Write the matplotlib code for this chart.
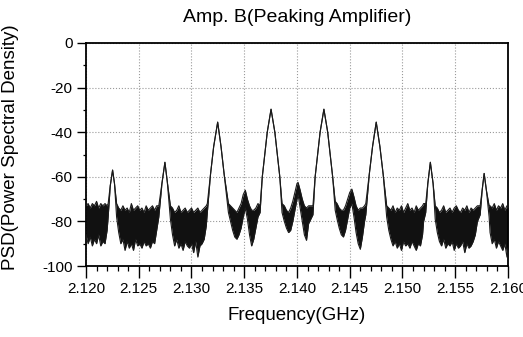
import numpy as np
import matplotlib
matplotlib.use("Agg")
import matplotlib.pyplot as plt
from matplotlib.ticker import MultipleLocator

plt.rcParams['font.family'] = ['Liberation Sans', 'DejaVu Sans']
plt.rcParams['axes.unicode_minus'] = False

# trace: frequency (GHz), upper / lower edge of the trace (dB)
# where upper == lower the trace is a single line (carrier / IM peaks)
freq = [
    # noise left of carrier 1
    2.1200, 2.1202, 2.1204, 2.1206, 2.1208, 2.1210, 2.1212, 2.1214, 2.1216, 2.1218, 2.1220,
    # carrier 1
    2.1221, 2.1223, 2.12252, 2.1227, 2.1229,
    # noise
    2.1231, 2.1233, 2.1235, 2.1237, 2.1239, 2.1241, 2.1243, 2.1245, 2.1247, 2.1249,
    2.1251, 2.1253, 2.1255, 2.1257, 2.1259, 2.1261, 2.1263, 2.1265, 2.1267,
    # carrier 2
    2.1269, 2.1272, 2.12748, 2.1277, 2.1280,
    # noise
    2.1282, 2.1284, 2.1286, 2.1288, 2.1290, 2.1292, 2.1294, 2.1296, 2.1298, 2.1300,
    2.1302, 2.1304, 2.1306, 2.1308, 2.1310, 2.1312, 2.1314,
    # carrier 3
    2.1315, 2.1318, 2.1321, 2.13248, 2.1328, 2.1331, 2.1335,
    # IM region around 2.135
    2.1337, 2.1339, 2.1341, 2.1343, 2.1345, 2.1347, 2.1349, 2.1351, 2.1353, 2.1355,
    2.1357, 2.1359, 2.1361, 2.1363,
    # carrier 4
    2.1365, 2.13671, 2.13718, 2.13754, 2.1379, 2.13837, 2.13858,
    # IM region around 2.140
    2.1388, 2.1390, 2.1392, 2.1394, 2.1396, 2.1398, 2.1400, 2.1401, 2.1403, 2.1405,
    2.1407, 2.1409, 2.1411,
    # carrier 5
    2.14151, 2.14172, 2.14219, 2.14255, 2.14291, 2.14338, 2.14362,
    # IM region around 2.145
    2.1438, 2.1440, 2.1442, 2.1444, 2.1446, 2.1448, 2.1450, 2.1452, 2.1454, 2.1456,
    2.1458, 2.1460, 2.1462, 2.1464,
    # carrier 6
    2.14652, 2.14685, 2.14716, 2.14751, 2.14786, 2.14817, 2.1485,
    # noise
    2.1487, 2.1489, 2.1491, 2.1493, 2.1495, 2.1497, 2.1499, 2.1501, 2.1503, 2.1505,
    2.1507, 2.1509, 2.1511, 2.1513, 2.1515, 2.1517, 2.1519, 2.1520,
    # carrier 7
    2.1522, 2.1524, 2.15264, 2.1529, 2.1531,
    # noise
    2.1533, 2.1535, 2.1537, 2.1539, 2.1541, 2.1543, 2.1545, 2.1547, 2.1549, 2.1551,
    2.1553, 2.1555, 2.1557, 2.1559, 2.1561, 2.1563, 2.1565, 2.1567, 2.1569, 2.1571,
    # carrier 8
    2.15736, 2.15755, 2.15774, 2.15795, 2.15821,
    # noise right of carrier 8
    2.1583, 2.1585, 2.1587, 2.1589, 2.1591, 2.1593, 2.1595, 2.1597, 2.1599, 2.1600,
]

upper = [
    -73, -72, -74, -72, -73, -71, -74, -72, -73, -72, -73,
    -72, -64, -57, -63, -72,
    -74, -75, -73, -75, -74, -76, -72, -75, -74, -73,
    -75, -74, -76, -73, -75, -74, -73, -75, -73,
    -73, -63, -53.5, -62, -73,
    -74, -76, -75, -73, -76, -75, -74, -76, -75, -74,
    -76, -75, -74, -76, -75, -74, -73,
    -72, -59, -46.5, -35.5, -46.5, -59, -72,
    -73, -74, -75, -76, -74, -72, -68, -66, -70, -73,
    -75, -75, -74, -72,
    -73, -60, -40, -29.7, -40, -60, -72,
    -73, -75, -76, -74, -71, -67, -63, -62.5, -66, -70,
    -73, -74, -73,
    -73, -60, -40, -29.7, -40, -60, -71,
    -72, -74, -75, -75, -73, -70, -67, -65.5, -69, -73,
    -75, -74, -74, -73,
    -72, -59, -46.5, -35.5, -46.5, -59, -73,
    -74, -75, -73, -76, -74, -75, -73, -76, -74, -72,
    -75, -74, -76, -73, -75, -74, -73, -72,
    -72, -63, -53.5, -63, -73,
    -74, -76, -75, -73, -76, -75, -74, -76, -74, -73,
    -75, -76, -74, -75, -73, -76, -74, -75, -74, -73,
    -73, -66, -58.5, -66, -73,
    -73, -74, -72, -75, -73, -74, -72, -75, -73, -74,
]

lower = [
    -86, -90, -87, -91, -88, -90, -86, -91, -89, -90, -84,
    -78, -64, -57, -63, -78,
    -85, -90, -88, -93, -89, -92, -90, -93, -88, -91,
    -90, -92, -89, -91, -90, -92, -89, -90, -84,
    -78, -63, -53.5, -62, -79,
    -86, -91, -88, -92, -90, -93, -89, -91, -92, -90,
    -94, -89, -96, -91, -90, -88, -82,
    -76, -59, -46.5, -35.5, -46.5, -59, -76,
    -80, -84, -87, -88, -86, -83, -78, -74, -79, -86,
    -91, -88, -83, -78,
    -76, -60, -40, -29.7, -40, -60, -76,
    -80, -83, -85, -84, -80, -75, -70, -68, -74, -80,
    -86, -88.5, -81,
    -77, -60, -40, -29.7, -40, -60, -75,
    -79, -83, -86, -87, -84, -79, -74, -72, -78, -85,
    -90, -92.5, -87, -80,
    -77, -59, -46.5, -35.5, -46.5, -59, -78,
    -84, -88, -91, -89, -92, -90, -93, -89, -91, -90,
    -92, -89, -91, -93, -90, -91, -86, -80,
    -76, -63, -53.5, -63, -79,
    -85, -89, -91, -88, -92, -90, -91, -89, -93, -90,
    -92, -91, -89, -94, -90, -92, -91, -89, -86, -80,
    -77, -66, -58.5, -66, -78,
    -85, -90, -88, -92, -89, -91, -93, -90, -96, -92,
]

xticks = [2.120, 2.125, 2.130, 2.135, 2.140, 2.145, 2.150, 2.155, 2.160]
xticklabels = ['2.120', '2.125', '2.130', '2.135', '2.140', '2.145', '2.150', '2.155', '2.160']
yticks = [0, -20, -40, -60, -80, -100]


def main():
    fig = plt.figure(figsize=(5.23, 3.37), dpi=100)
    ax = fig.add_axes([86 / 523, 1 - 266 / 337, 422 / 523, 223 / 337])

    ax.fill_between(freq, lower, upper, color='#111111', lw=0, zorder=2)
    ax.plot(freq, upper, color='#1a1a1a', lw=0.8, zorder=3)
    ax.plot(freq, lower, color='#1a1a1a', lw=0.8, zorder=3)

    ax.set_xlim(2.120, 2.160)
    ax.set_ylim(-100, 0)
    ax.set_xticks(xticks)
    ax.set_xticklabels(xticklabels)
    ax.set_yticks(yticks)
    ax.xaxis.set_minor_locator(MultipleLocator(0.001))
    ax.yaxis.set_minor_locator(MultipleLocator(10))

    ax.tick_params(axis='x', which='major', direction='out', length=8.6, width=1.0,
                   labelsize=11, pad=3)
    ax.tick_params(axis='x', which='minor', direction='out', length=3.6, width=0.9)
    ax.tick_params(axis='y', which='major', direction='out', length=6.5, width=1.0,
                   labelsize=11, pad=3)
    ax.tick_params(axis='y', which='minor', direction='out', length=2.5, width=0.9)

    ax.grid(True, which='major', color='#9a9a9a', linestyle=':', linewidth=0.8, zorder=1)
    ax.set_axisbelow(True)
    for sp in ax.spines.values():
        sp.set_linewidth(1.3)
        sp.set_color('black')

    ax.set_title('Amp. B(Peaking Amplifier)', fontsize=14, pad=15)
    ax.set_xlabel('Frequency(GHz)', fontsize=13.5)
    ax.xaxis.set_label_coords(0.5, -0.185)
    ax.set_ylabel('PSD(Power Spectral Density)', fontsize=13.5)
    ax.yaxis.set_label_coords(-0.158, 0.535)

    fig.savefig('out.png', dpi=100)


if __name__ == "__main__":
    main()
